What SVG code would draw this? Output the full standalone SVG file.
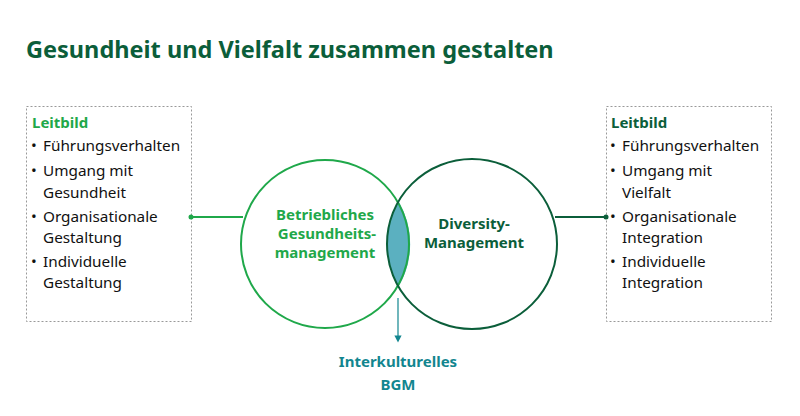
<svg xmlns="http://www.w3.org/2000/svg" width="800" height="416" viewBox="0 0 800 416">
<style>
text{font-family:"Noto Sans","Open Sans",sans-serif}
.t{font-size:23.5px;font-weight:bold;fill:#0b5e3a}
.b{font-size:15.3px;fill:#111}
.box{fill:none;stroke:#999;stroke-width:1;stroke-dasharray:2 2}
.g{fill:#1fa84a;font-weight:bold;font-size:15px}
.d{fill:#0b5e3a;font-weight:bold;font-size:15px}
.tl{fill:#12868f;font-weight:bold;font-size:15px}
</style>
<defs><marker id="ar" markerWidth="6" markerHeight="6" refX="3" refY="3" orient="auto"><path d="M0,0L6,3L0,6z" fill="#12868f"/></marker></defs>
<rect width="800" height="416" fill="#fff"/>
<text class="t" x="26" y="58">Gesundheit und Vielfalt zusammen gestalten</text>
<g id="left">
<rect class="box" x="26.5" y="106.5" width="165" height="215"/>
<text class="g" x="32" y="128">Leitbild</text>
<text class="b"><tspan x="31" y="151">•</tspan><tspan x="43" y="151">Führungsverhalten</tspan>
<tspan x="31" y="176">•</tspan><tspan x="43" y="176">Umgang mit</tspan><tspan x="43" y="198">Gesundheit</tspan>
<tspan x="31" y="222">•</tspan><tspan x="43" y="222">Organisationale</tspan><tspan x="43" y="243">Gestaltung</tspan>
<tspan x="31" y="267">•</tspan><tspan x="43" y="267">Individuelle</tspan><tspan x="43" y="288">Gestaltung</tspan></text>
</g>
<g id="right">
<rect class="box" x="606.5" y="106.5" width="165" height="215"/>
<text class="d" x="611" y="128">Leitbild</text>
<text class="b"><tspan x="610" y="151">•</tspan><tspan x="622" y="151">Führungsverhalten</tspan>
<tspan x="610" y="176">•</tspan><tspan x="622" y="176">Umgang mit</tspan><tspan x="622" y="198">Vielfalt</tspan>
<tspan x="610" y="222">•</tspan><tspan x="622" y="222">Organisationale</tspan><tspan x="622" y="243">Integration</tspan>
<tspan x="610" y="267">•</tspan><tspan x="622" y="267">Individuelle</tspan><tspan x="622" y="288">Integration</tspan></text>
</g>
<g id="lens">
<path d="M398.5,201.3 A85,85 0 0 0 398.5,286.7 A84,84 0 0 0 398.5,201.3z" fill="#5bb0c0"/>
</g>
<g id="bgm">
<circle cx="325" cy="244" r="84" fill="none" stroke="#1fa84a" stroke-width="2"/>
<text class="g" text-anchor="middle" x="325" y="220">Betriebliches</text>
<text class="g" text-anchor="middle" x="327" y="239">Gesundheits-</text>
<text class="g" text-anchor="middle" x="325" y="258">management</text>
</g>
<g id="dm">
<circle cx="472" cy="244" r="85" fill="none" stroke="#0b5e3a" stroke-width="2"/>
<text class="d" text-anchor="middle" x="474" y="229">Diversity-</text>
<text class="d" text-anchor="middle" x="474" y="248">Management</text>
</g>
<g id="connectors">
<line x1="191" y1="217" x2="243" y2="217" stroke="#1fa84a" stroke-width="2"/>
<circle cx="191" cy="217" r="2.5" fill="#1fa84a"/>
<line x1="555" y1="217" x2="606" y2="217" stroke="#0b5e3a" stroke-width="2"/>
<circle cx="606" cy="217" r="2.5" fill="#0b5e3a"/>
<line x1="398" y1="298" x2="398" y2="339" stroke="#12868f" stroke-width="1.2" marker-end="url(#ar)"/>
</g>
<g id="ikb">
<text class="tl" text-anchor="middle" x="398" y="367">Interkulturelles</text>
<text class="tl" text-anchor="middle" x="398" y="390">BGM</text>
</g>
</svg>
